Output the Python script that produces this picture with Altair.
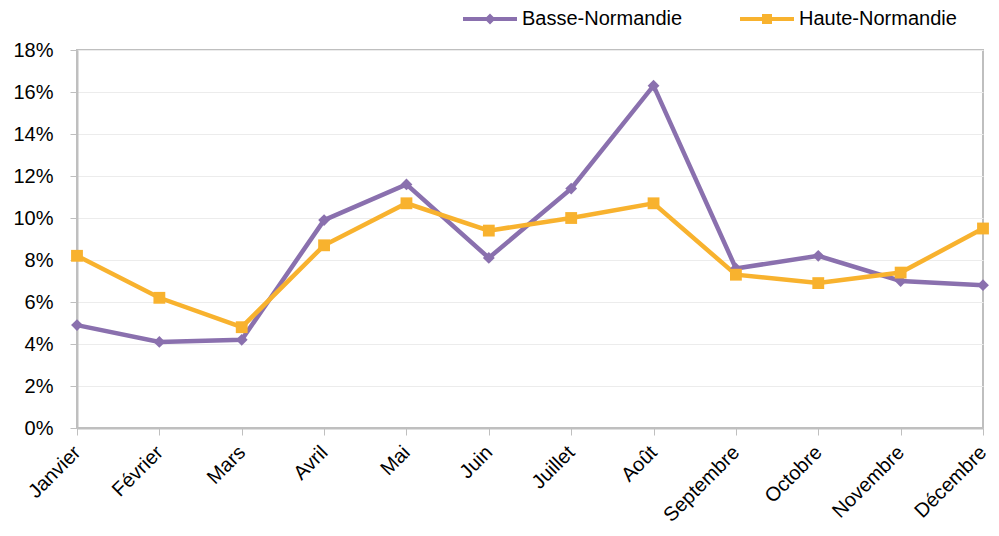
import altair as alt
import pandas as pd

months = ["Janvier", "Février", "Mars", "Avril", "Mai", "Juin", "Juillet",
          "Août", "Septembre", "Octobre", "Novembre", "Décembre"]
basse = [4.9, 4.1, 4.2, 9.9, 11.6, 8.1, 11.4, 16.3, 7.6, 8.2, 7.0, 6.8]
haute = [8.2, 6.2, 4.8, 8.7, 10.7, 9.4, 10.0, 10.7, 7.3, 6.9, 7.4, 9.5]
series = ["Basse-Normandie", "Haute-Normandie"]
colors = ["#8A70AE", "#F8B22E"]
shapes = ["diamond", "square"]
legend_shapes = [
    "M-5.4,-0.4H5.4V0.4H-5.4Z M0,-1.1L1.1,0L0,1.1L-1.1,0Z",
    "M-5.4,-0.4H5.4V0.4H-5.4Z M-1.0,-1.0H1.0V1.0H-1.0Z",
]
y_ticks = [0, 2, 4, 6, 8, 10, 12, 14, 16, 18]

rows = []
for m, b, h in zip(months, basse, haute):
    rows.append({"mois": m, "region": series[0], "valeur": b})
    rows.append({"mois": m, "region": series[1], "valeur": h})
df = pd.DataFrame(rows)

FONT = "Liberation Sans"

legend = alt.Legend(
    title=None, orient="none", legendX=403, legendY=-41,
    direction="horizontal", symbolSize=100, labelFont=FONT,
    labelFontSize=20, labelColor="#000000", labelOffset=22, labelLimit=400,
    columnPadding=57, padding=0, symbolOpacity=1, symbolStrokeWidth=0,
)

x = alt.X("mois:N", sort=months, title=None,
          scale=alt.Scale(type="point", padding=0),
          axis=alt.Axis(labelAngle=315, labelAlign="right", labelBaseline="middle",
                        labelPadding=14, tickSize=7, labelFont=FONT, labelFontSize=20,
                        labelColor="#000000", tickColor="#bfbfbf", domainColor="#bfbfbf",
                        domainWidth=2, grid=False))
y = alt.Y("valeur:Q", title=None,
          scale=alt.Scale(domain=[0, 18], nice=False),
          axis=alt.Axis(values=y_ticks, labelExpr="datum.value + '%'", tickSize=7,
                        labelPadding=17, labelFont=FONT, labelFontSize=20,
                        labelColor="#000000", tickColor="#bfbfbf", domainColor="#bfbfbf",
                        domainWidth=2, gridColor="#ececec", gridWidth=1))
cscale = alt.Scale(domain=series, range=colors)

lines = alt.Chart(df).mark_line(strokeWidth=4.5).encode(
    x=x, y=y, color=alt.Color("region:N", scale=cscale, legend=None))
points = alt.Chart(df).mark_point(filled=True, opacity=1, size=140).encode(
    x=x, y=y,
    color=alt.Color("region:N", scale=cscale, legend=None),
    shape=alt.Shape("region:N", scale=alt.Scale(domain=series, range=shapes), legend=None))
legend_layer = alt.Chart(df).mark_point(filled=True, opacity=0, size=10).encode(
    x=x, y=y,
    color=alt.Color("region:N", scale=cscale, legend=legend),
    shape=alt.Shape("region:N", scale=alt.Scale(domain=series, range=legend_shapes),
                    legend=legend))

chart = alt.layer(lines, points, legend_layer).resolve_scale(
    color="independent", shape="independent"
).properties(
    width=906, height=378,
    autosize=alt.AutoSizeParams(type="none"),
    padding={"left": 69, "top": 42, "right": 8, "bottom": 100},
    background="#ffffff",
).configure_view(stroke="#bfbfbf", strokeWidth=2)

chart.save("out.html", embed_options={"renderer": "svg", "actions": False})
